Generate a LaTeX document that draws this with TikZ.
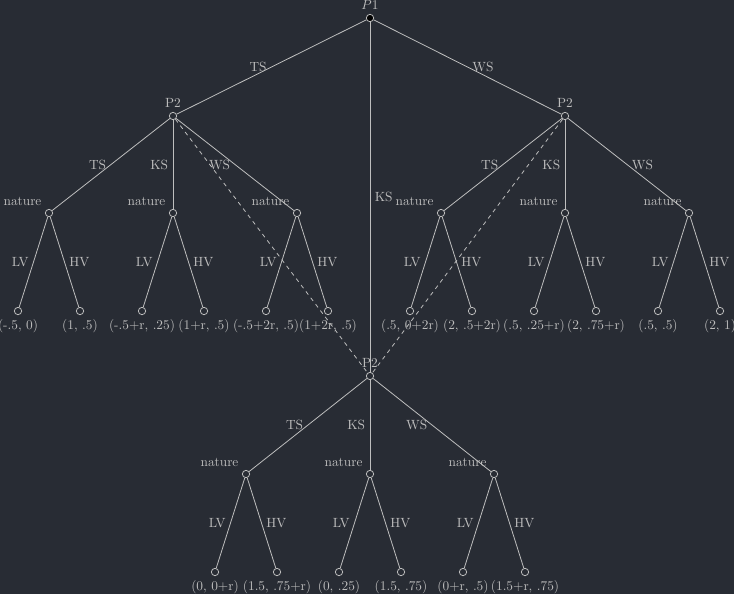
\documentclass[tikz,border=0pt]{standalone}
\definecolor{bg}{HTML}{282C34}
\definecolor{ln}{HTML}{BEBEBE}
\definecolor{tx}{HTML}{BDBDBD}
\begin{document}
\begin{tikzpicture}[x=0.75pt,y=-0.75pt,
  every node/.style={text=tx},
  every label/.style={text=tx},
  dec/.style={circle,draw=ln,fill=bg,inner sep=0pt,minimum size=5.5pt,line width=0.6pt},
  rootnode/.style={dec,fill=black},
  nat/.style={dec,label={above left:nature}},
  ptwo/.style={dec,label={above:P2}},
  edge/.style={draw=ln,line width=0.6pt},
  info/.style={edge,dashed}]
\fill[bg] (0,0) rectangle (734,594);
\useasboundingbox (0,0) rectangle (734,594);
% decision nodes
\node[rootnode,label={above:$P1$}] (p1) at (370,18) {};
\node[ptwo] (a) at (173,116) {};
\node[ptwo] (b) at (565,116) {};
\node[ptwo] (c) at (370,376) {};
% nature nodes
\node[nat] (a1) at (49,213) {};
\node[nat] (a2) at (173,213) {};
\node[nat] (a3) at (297,213) {};
\node[nat] (b1) at (441,213) {};
\node[nat] (b2) at (565,213) {};
\node[nat] (b3) at (689,213) {};
\node[nat] (c1) at (246,474) {};
\node[nat] (c2) at (370,474) {};
\node[nat] (c3) at (494,474) {};
% leaves
\node[dec,label={below:{(-.5, 0)}}] (a1l) at (18,311) {};
\node[dec,label={below:{(1, .5)}}] (a1r) at (80,311) {};
\node[dec,label={below:{(-.5+r, .25)}}] (a2l) at (142,311) {};
\node[dec,label={below:{(1+r, .5)}}] (a2r) at (204,311) {};
\node[dec,label={below:{(-.5+2r, .5)}}] (a3l) at (266,311) {};
\node[dec,label={below:{(1+2r, .5)}}] (a3r) at (328,311) {};
\node[dec,label={below:{(.5, 0+2r)}}] (b1l) at (410,311) {};
\node[dec,label={below:{(2, .5+2r)}}] (b1r) at (472,311) {};
\node[dec,label={below:{(.5, .25+r)}}] (b2l) at (534,311) {};
\node[dec,label={below:{(2, .75+r)}}] (b2r) at (596,311) {};
\node[dec,label={below:{(.5, .5)}}] (b3l) at (658,311) {};
\node[dec,label={below:{(2, 1)}}] (b3r) at (720,311) {};
\node[dec,label={below:{(0, 0+r)}}] (c1l) at (215,572) {};
\node[dec,label={below:{(1.5, .75+r)}}] (c1r) at (277,572) {};
\node[dec,label={below:{(0, .25)}}] (c2l) at (339,572) {};
\node[dec,label={below:{(1.5, .75)}}] (c2r) at (401,572) {};
\node[dec,label={below:{(0+r, .5)}}] (c3l) at (463,572) {};
\node[dec,label={below:{(1.5+r, .75)}}] (c3r) at (525,572) {};
% edges from P1
\draw[edge] (p1) -- node[left]{TS} (a);
\draw[edge] (p1) -- node[right]{KS} (c);
\draw[edge] (p1) -- node[right]{WS} (b);
% edges from P2 nodes
\draw[edge] (a) -- node[left]{TS} (a1);
\draw[edge] (a) -- node[left]{KS} (a2);
\draw[edge] (a) -- node[left]{WS} (a3);
\draw[edge] (b) -- node[left]{TS} (b1);
\draw[edge] (b) -- node[left]{KS} (b2);
\draw[edge] (b) -- node[right]{WS} (b3);
\draw[edge] (c) -- node[left]{TS} (c1);
\draw[edge] (c) -- node[left]{KS} (c2);
\draw[edge] (c) -- node[left]{WS} (c3);
% nature edges
\foreach \n in {a1,a2,a3,b1,b2,b3,c1,c2,c3}{
  \draw[edge] (\n) -- node[left]{LV} (\n l);
  \draw[edge] (\n) -- node[right]{HV} (\n r);
}
% information set
\draw[info] (a) -- (c);
\draw[info] (b) -- (c);
\end{tikzpicture}
\end{document}
